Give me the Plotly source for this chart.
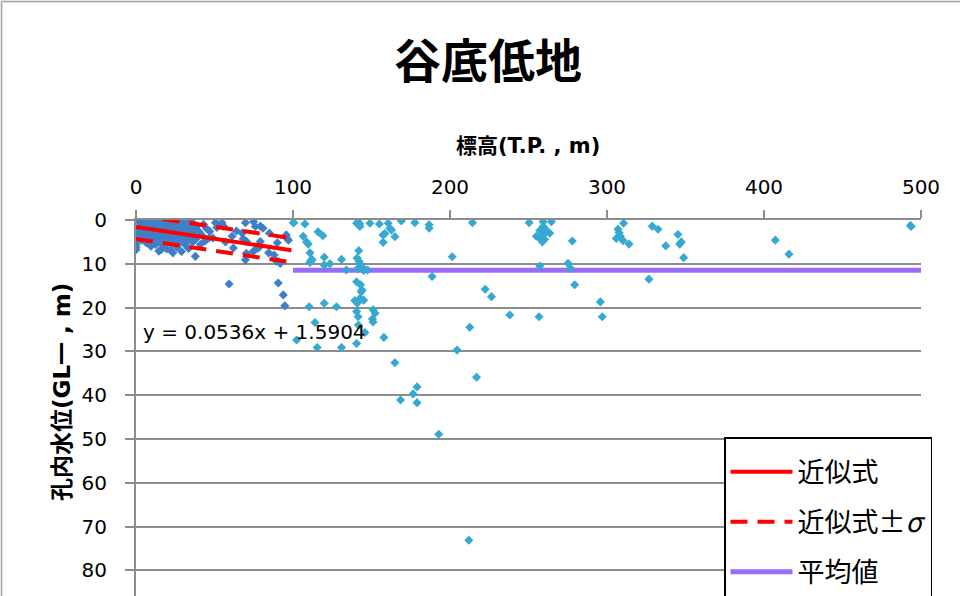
import plotly.graph_objects as go

# ---------------- data ----------------
# 谷底低地: elevation (x, T.P. m) vs borehole water level (y, GL- m)
dark_x = [0, 0, 0, 0, 0.5, 1, 1.5, 2, 2.5, 3, 3.5, 4, 4.5, 5, 5.5, 6, 6.5, 7, 7.5, 8,
          8.5, 9, 9.5, 10, 10.5, 11, 11.5, 12, 12.5, 13, 13.5, 14, 14.5, 15, 15.5, 16,
          16.5, 17, 17.5, 18, 18.5, 19, 19.5, 20, 20.5, 21, 21.5, 22, 22.5, 23, 23.5,
          24, 24.5, 25, 25.5, 26, 26.5, 27, 27.5, 28, 28.5, 29, 29.5, 30, 30.5, 31,
          31.5, 32, 32.5, 33, 33.5, 34, 34.5, 35, 35.5, 36, 36.5, 37, 37.8, 38, 39,
          40, 41, 42, 43, 44, 45,
          3, 6, 9, 12, 15, 18, 21, 24, 27, 30, 33, 10, 20, 28, 16, 22, 26, 31, 13, 7,
          47, 46.5, 49, 50.6, 52.7, 54.8, 55.8, 51.5, 57, 59.3, 61.2, 62, 64, 67.6,
          68.3, 69.7, 70.4, 70.3, 69.7, 74.9, 76, 79.2, 80.9, 74.6, 76, 78, 79.2, 84.5,
          85, 88, 89.5, 90.8, 91.9, 90.6, 93.8, 94.8, 95.7, 96, 97.1, 90]
dark_y = [5.0, 5.6, 6.2, 6.8, 4.3, 3.2, 1.8, 0.4, 2.6, 1.1, 4.6, 0.3, 3.6, 0.8, 2.1, 3.4,
          5.2, 0.5, 1.5, 2.8, 4.1, 0.9, 6.0, 0.3, 2.0, 3.3, 4.8, 1.2, 5.6, 0.6, 2.5, 3.9,
          7.1, 0.4, 1.8, 3.0, 4.4, 0.8, 5.9, 2.2, 3.6, 0.3, 6.6, 1.4, 4.9, 2.7, 0.6, 3.8,
          5.4, 1.9, 7.5, 0.4, 3.1, 4.5, 1.1, 6.2, 2.4, 0.7, 3.7, 5.1, 1.6, 7.2, 2.9, 0.5,
          4.2, 1.3, 5.7, 3.3, 0.9, 2.1, 6.5, 4.0, 1.7, 0.4, 3.0, 5.0, 0.8, 2.3, 8.3, 4.4,
          1.3, 2.6, 5.6, 3.5, 1.0, 4.8, 2.0,
          2.0, 1.2, 3.0, 2.8, 5.0, 1.0, 4.0, 2.0, 5.5, 2.2, 4.6, 5.0, 3.2, 3.0, 6.8, 6.9,
          3.4, 3.8, 4.4, 3.9,
          2.6, 4.1, 4.1, 0.6, 1.1, 0.6, 1.4, 1.7, 5.0, 14.6, 3.7, 6.4, 2.5, 3.0,
          4.3, 0.6, 4.9, 7.6, 9.1, 0.4, 1.5, 1.4, 1.9, 7.2, 6.8, 6.4, 4.9, 7.5,
          3.0, 8.0, 9.4, 9.5, 9.9, 14.4, 17.1, 19.6, 3.4, 4.1, 4.6, 5.2]

light_x = [100.2, 100.5, 107.6, 116, 119, 106.5, 108.6, 109.7, 110.8, 111.8, 110.8, 111.1,
           112.2, 119.9, 119.9, 123.5, 130.9, 134, 140.5, 141.5, 142.5, 142.6, 149, 155,
           160.6, 169, 177.6, 186.7, 186.7, 214.3, 157.4, 158.5, 164.9, 157.4, 161.7,
           162.7, 141.9, 140.8, 142, 142.5, 144, 141, 145, 147.5, 201.4, 188.6, 140.5,
           143, 144, 143.5, 142.6, 139.4, 145, 141, 110.3, 119.9, 127.7, 140.5, 141.5,
           151, 152.3, 150.6, 151, 114, 141.7, 212.6, 102.3, 115.4, 130.9, 140.5, 145.8,
           157.9, 204.5, 164.9, 179, 176.5, 168.5, 179, 192.8, 216.9, 212, 222.4, 226.4,
           250.4, 259.3, 264.6, 259.3, 260.3, 257.2, 261.4, 259.3, 263.5, 255, 257.2,
           260.3, 258.8, 277.9, 257.2, 275.2, 276.7, 279.4, 238.1, 256.7, 295.8, 297,
           310.6, 307, 307.7, 305.9, 308.5, 310.2, 314, 326.7, 328.8, 332.5, 337.4,
           345.2, 347.3, 346.3, 348.8, 407.2, 415.9, 493.7, 493.3]
light_y = [0.6, 0.6, 0.9, 2.7, 3.6, 3.7, 5.0, 5.5, 7.5, 9.0, 9.7, 9.5,
           9.1, 8.5, 10.3, 10.0, 9.0, 11.4, 0.75, 0.4, 0.9, 1.5, 0.75, 0.9,
           0.75, 0.2, 0.6, 1.1, 1.9, 0.6, 3.4, 3.1, 3.8, 5.1, 1.9,
           2.3, 7.0, 8.7, 9.4, 10.0, 10.7, 11.2, 11.5, 11.4, 8.4, 12.9, 14.1,
           14.8, 16.0, 16.4, 17.9, 18.4, 18.3, 19.0, 19.8, 19.0, 19.8, 20.9, 22.1,
           20.5, 21.3, 22.6, 23.3, 23.4, 24.0, 24.5, 27.4, 29.1, 29.1, 28.2, 25.7,
           26.8, 29.7, 32.6, 38.1, 39.7, 41.1, 41.7, 48.9, 35.9, 73.1, 15.8, 17.5,
           0.6, 0.4, 0.4, 1.5, 1.9, 2.4, 2.7, 3.0, 3.0, 3.7, 4.2,
           4.4, 5.0, 4.8, 10.5, 9.9, 11.0, 14.8, 21.7, 22.1, 18.7, 22.1,
           0.75, 2.1, 2.9, 4.2, 3.7, 4.7, 5.5, 13.5, 1.4, 2.1, 5.9,
           3.3, 5.0, 5.5, 8.6, 4.6, 7.8, 1.5, 1.25]

# regression (from the chart's equation), its ±σ band, and the mean level
FIT_SLOPE = 0.0536
FIT_INTERCEPT = 1.5904
FIT_SIGMA = 2.75
fit_x = [0, 99]
MEAN_LEVEL = 11.5
mean_x = [100, 500]

x_ticks = [0, 100, 200, 300, 400, 500]
y_ticks = [0, 10, 20, 30, 40, 50, 60, 70, 80]

TITLE = "谷底低地"
X_TITLE = "<b>標高(T.P. , m)</b>"
Y_TITLE = "<b>孔内水位(GL一 , m)</b>"
EQ_TEXT = "y = 0.0536x + 1.5904"
LEG_FIT = "近似式"
LEG_SIGMA = "近似式±<i>σ</i>"
LEG_MEAN = "平均値"

# ---------------- layout geometry ----------------
W, H = 960, 596
ML, MR, MT, MB = 136, 39, 220, 0
PW = W - ML - MR
PH = H - MT - MB
Y_PER_PX = 10 / 43.8
Y_MAX = PH * Y_PER_PX


def px2x(px):
    return (px - ML) / PW


def py2y(py):
    return (H - MB - py) / PH


FONT = "DejaVu Sans, Noto Sans CJK JP, sans-serif"
CJK = "Noto Sans CJK JP, DejaVu Sans, sans-serif"
GRID = "#8c8c8c"
DARK = "#3f7fc8"
LIGHT = "#35a9d2"
RED = "#ff0000"
PURPLE = "#9b6cf6"

fit_y = [FIT_SLOPE * v + FIT_INTERCEPT for v in fit_x]
up_y = [v - FIT_SIGMA for v in fit_y]
lo_y = [v + FIT_SIGMA for v in fit_y]

fig = go.Figure()
fig.add_trace(go.Scatter(x=mean_x, y=[MEAN_LEVEL, MEAN_LEVEL], mode="lines",
                         line=dict(color=PURPLE, width=5), name=LEG_MEAN,
                         legendgroup="c", legendrank=3))
fig.add_trace(go.Scatter(x=light_x, y=light_y, mode="markers",
                         marker=dict(symbol="diamond", size=7, color=LIGHT),
                         showlegend=False))
fig.add_trace(go.Scatter(x=dark_x, y=dark_y, mode="markers",
                         marker=dict(symbol="diamond", size=7, color=DARK),
                         showlegend=False))
fig.add_trace(go.Scatter(x=fit_x, y=fit_y, mode="lines",
                         line=dict(color=RED, width=4), name=LEG_FIT,
                         legendgroup="a", legendrank=1))
fig.add_trace(go.Scatter(x=fit_x, y=up_y, mode="lines",
                         line=dict(color=RED, width=4, dash="17px,10px"),
                         name=LEG_SIGMA, legendgroup="b", legendrank=2))
fig.add_trace(go.Scatter(x=fit_x, y=lo_y, mode="lines",
                         line=dict(color=RED, width=4, dash="17px,10px"),
                         name=LEG_SIGMA, legendgroup="b", showlegend=False))

fig.update_layout(
    width=W, height=H,
    margin=dict(l=ML, r=MR, t=MT, b=MB, autoexpand=False),
    paper_bgcolor="white", plot_bgcolor="white",
    font=dict(family=FONT, size=20, color="black"),
    title=dict(text="<b>" + TITLE + "</b>", xref="container", yref="container",
               x=488 / W, y=1 - 62 / H, xanchor="center", yanchor="middle",
               font=dict(size=47, family=CJK, color="black")),
    xaxis=dict(side="top", range=[0, 500], tickvals=x_ticks, showgrid=False,
               zeroline=False, showline=True, linecolor=GRID, linewidth=2,
               ticks="outside", ticklen=8, tickwidth=2, tickcolor=GRID,
               ticklabelstandoff=8, tickfont=dict(size=20)),
    yaxis=dict(range=[Y_MAX, 0], tickvals=y_ticks, showgrid=True, gridcolor=GRID,
               gridwidth=1.5, zeroline=False, showline=True, linecolor=GRID,
               linewidth=2, ticks="outside", ticklen=9, tickwidth=2, tickcolor=GRID,
               ticklabelstandoff=14, tickfont=dict(size=20)),
    showlegend=True,
    legend=dict(x=px2x(724), y=py2y(437), xanchor="left", yanchor="top",
                bgcolor="white", bordercolor="black", borderwidth=1.5,
                font=dict(size=27, family=CJK), traceorder="grouped",
                tracegroupgap=12, itemwidth=62,
                title=dict(text=" ", font=dict(size=7))),
    annotations=[
        dict(text=X_TITLE, xref="paper", yref="paper", x=px2x(528), y=py2y(146),
             showarrow=False, xanchor="center", yanchor="middle",
             font=dict(size=21)),
        dict(text=Y_TITLE, xref="paper", yref="paper", x=px2x(62), y=py2y(392),
             showarrow=False, xanchor="center", yanchor="middle", textangle=-90,
             font=dict(size=23)),
        dict(text=EQ_TEXT, xref="paper", yref="paper", x=px2x(141), y=py2y(332),
             showarrow=False, xanchor="left", yanchor="middle",
             font=dict(size=20)),
    ],
    shapes=[
        dict(type="line", xref="paper", yref="paper", x0=px2x(1.5), x1=px2x(1.5),
             y0=py2y(1.5), y1=py2y(600), line=dict(color="#a0a0a0", width=1.5)),
        dict(type="line", xref="paper", yref="paper", x0=px2x(1.5), x1=px2x(965),
             y0=py2y(1.5), y1=py2y(1.5), line=dict(color="#a0a0a0", width=1.5)),
    ],
)

fig.write_html("out.html", config={"displayModeBar": False},
               post_script="document.body.style.margin='0';")
